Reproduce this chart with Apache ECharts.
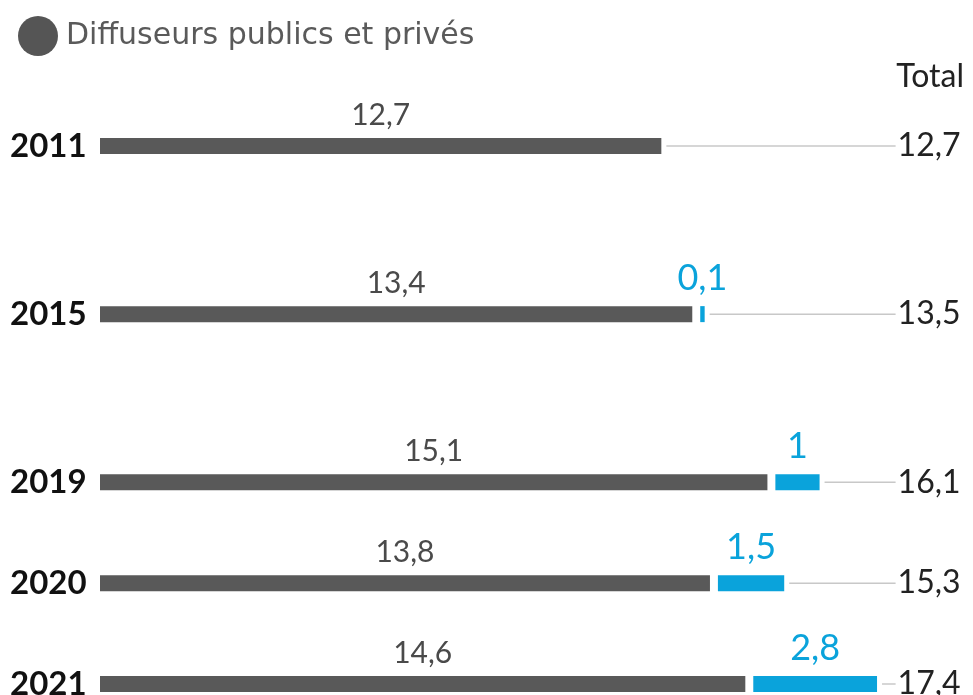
<!DOCTYPE html>
<html>
<head>
<meta charset="utf-8">
<title>Diffuseurs publics et privés</title>
<script src="https://cdn.jsdelivr.net/npm/echarts@6/dist/echarts.min.js"></script>
<style>
  html, body { margin: 0; padding: 0; background: #fff; }
  #chart { width: 973px; height: 695px; }
</style>
</head>
<body>
<div id="chart"></div>
<script>
  // donnees
  var years = ['2011', '2015', '2019', '2020', '2021'];
  var diffuseurs = [12.7, 13.4, 15.1, 13.8, 14.6];
  var autres = [0, 0.1, 1, 1.5, 2.8];

  // mise en page : lignes espacees irregulierement
  var rowSlots = [0, 5, 10, 13, 16];
  var nSlots = 17;
  var GAP = 0.18;     // petit blanc entre barre grise et barre bleue
  var X_MAX = 18;

  var GREY = '#595959';
  var BLUE = '#0aa3db';
  var FONT = 'Lato, "Open Sans", sans-serif';

  function fr(v) {
    return String(v).replace('.', ',');
  }

  var categories = [];
  var greyData = [], gapData = [], blueData = [], lineData = [];
  for (var i = 0; i < nSlots; i++) {
    categories.push('');
    greyData.push('-');
    gapData.push('-');
    blueData.push('-');
  }
  years.forEach(function (y, k) {
    var s = rowSlots[k];
    categories[s] = y;
    greyData[s] = diffuseurs[k];
    if (autres[k] > 0) {
      gapData[s] = GAP;
      blueData[s] = autres[k];
    }
    var end = diffuseurs[k] + (autres[k] > 0 ? GAP + autres[k] : 0);
    var total = Math.round((diffuseurs[k] + autres[k]) * 10) / 10;
    lineData.push([end, s, total]);
  });

  var myChart = echarts.init(document.getElementById('chart'));
  myChart.setOption({
    animation: false,
    title: {
      text: 'Total',
      right: 4,
      top: 56,
      textStyle: { fontFamily: FONT, fontWeight: 'normal', fontSize: 32, color: '#222' }
    },
    legend: {
      data: [{ name: 'Diffuseurs publics et privés', icon: 'circle' }],
      left: 13,
      top: 11,
      itemWidth: 42,
      itemHeight: 40,
      selectedMode: false,
      itemStyle: { color: '#555' },
      textStyle: { fontFamily: '"DejaVu Sans", sans-serif', fontWeight: 'normal', fontSize: 30, color: '#5a5a5a', padding: [0, 0, 0, 2] }
    },
    grid: {
      left: 100,
      right: 973 - 100 - X_MAX * 44.2,
      top: 146,
      bottom: 11,
      outerBoundsMode: 'none'
    },
    xAxis: {
      type: 'value',
      min: 0,
      max: X_MAX,
      show: false
    },
    yAxis: {
      type: 'category',
      inverse: true,
      boundaryGap: false,
      data: categories,
      axisLine: { show: false },
      axisTick: { show: false },
      splitLine: { show: false },
      axisLabel: {
        align: 'left',
        margin: 90,
        interval: 0,
        fontFamily: FONT,
        fontWeight: 'bold',
        fontSize: 33,
        color: '#111'
      }
    },
    series: [
      {
        name: 'Diffuseurs publics et privés',
        type: 'bar',
        stack: 'total',
        barWidth: 16,
        data: greyData,
        itemStyle: { color: GREY },
        label: {
          show: true,
          position: 'top',
          distance: 8,
          fontFamily: FONT,
          fontSize: 30,
          color: '#4a4a4a',
          formatter: function (p) { return fr(p.value); }
        }
      },
      {
        name: 'espace',
        type: 'bar',
        stack: 'total',
        barWidth: 16,
        data: gapData,
        silent: true,
        itemStyle: { color: 'rgba(0,0,0,0)' }
      },
      {
        name: 'autres',
        type: 'bar',
        stack: 'total',
        barWidth: 16,
        data: blueData,
        itemStyle: { color: BLUE },
        label: {
          show: true,
          position: 'top',
          distance: 10,
          fontFamily: FONT,
          fontSize: 36,
          color: BLUE,
          formatter: function (p) { return fr(p.value); }
        }
      },
      {
        name: 'total',
        type: 'custom',
        silent: true,
        encode: { x: 0, y: 1 },
        data: lineData,
        renderItem: function (params, api) {
          var p0 = api.coord([api.value(0), api.value(1)]);
          var p1 = api.coord([X_MAX, api.value(1)]);
          return {
            type: 'group',
            children: [
              {
                type: 'line',
                shape: { x1: p0[0] + 5, y1: p0[1], x2: p1[0], y2: p1[1] },
                style: { stroke: '#c8c8c8', lineWidth: 1.5 }
              },
              {
                type: 'text',
                x: p1[0] + 2,
                y: p1[1],
                style: {
                  text: fr(api.value(2)),
                  fontFamily: FONT,
                  fontSize: 32,
                  fill: '#222',
                  textAlign: 'left',
                  textVerticalAlign: 'middle'
                }
              }
            ]
          };
        }
      }
    ]
  });
  window.onresize = myChart.resize;
</script>
</body>
</html>
